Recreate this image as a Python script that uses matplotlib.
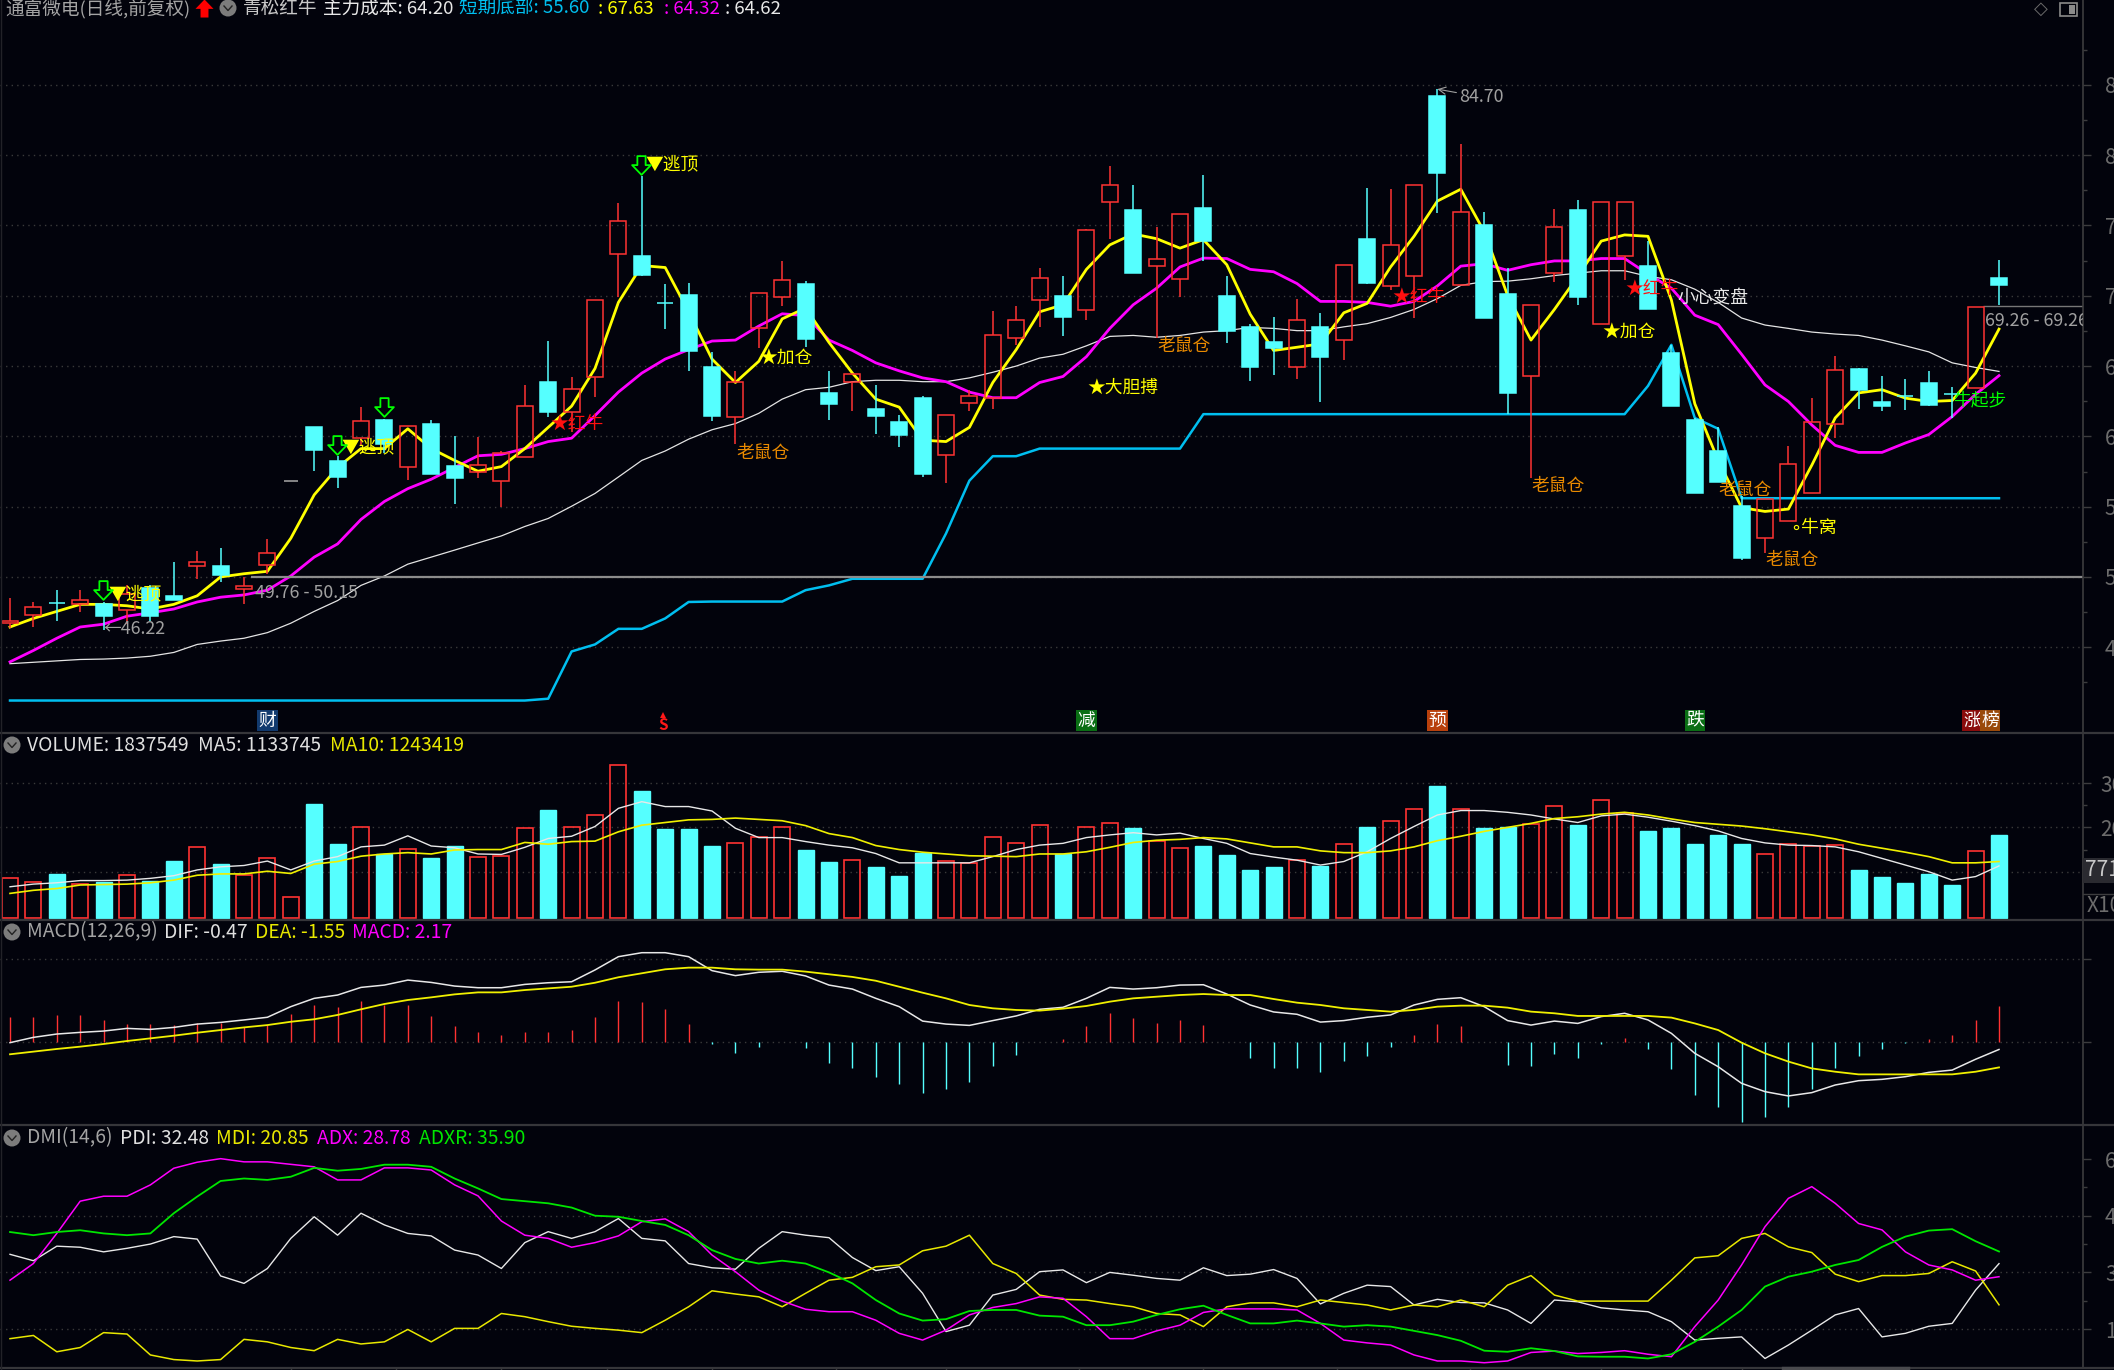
import numpy as np
import matplotlib
matplotlib.use('Agg')
import matplotlib.pyplot as plt
from matplotlib.patches import Circle, Rectangle
from matplotlib.path import Path

plt.rcParams['font.family'] = ['Noto Sans CJK SC', 'DejaVu Sans']

# ---- price panel ----
open_ = [46.7, 47.32, 48.12, 48.05, 48.09, 47.65, 49.23, 48.62, 50.77, 50.77,
         49.16, 50.84, 56.85, 60.67, 58.22, 59.9, 61.14, 57.79, 60.91, 57.89,
         57.45, 56.81, 58.56, 63.89, 61.74, 64.19, 72.95, 72.85, 69.5, 70.07,
         64.93, 61.38, 67.68, 69.93, 70.84, 63.05, 63.89, 61.98, 61.04, 62.75,
         58.66, 62.38, 62.75, 66.98, 69.73, 69.97, 68.96, 76.64, 76.07, 72.15,
         71.21, 76.28, 69.97, 67.75, 66.68, 64.9, 67.75, 66.85, 74.06, 70.67,
         71.41, 84.2, 70.77, 75.0, 70.1, 64.26, 71.64, 76.07, 68.02, 72.82,
         72.11, 65.91, 61.14, 58.99, 55.03, 52.75, 53.96, 55.97, 60.91, 64.77,
         62.48, 62.89, 63.79, 62.99, 63.42, 71.24]
high = [48.5, 48.22, 49.06, 49.06, 48.22, 49.4, 49.4, 51.07, 51.85, 52.08,
        50.0, 52.72, 56.85, 60.67, 58.62, 62.08, 61.21, 60.77, 61.14, 60.03,
        59.97, 58.96, 63.66, 66.78, 64.23, 69.73, 76.58, 78.52, 70.87, 70.94,
        66.0, 64.66, 70.17, 72.45, 71.04, 64.66, 64.43, 63.66, 61.54, 62.89,
        61.54, 63.32, 68.93, 69.26, 71.98, 71.38, 74.73, 79.26, 77.89, 74.9,
        75.84, 78.59, 71.38, 68.02, 68.49, 69.77, 68.79, 72.21, 77.68, 77.58,
        77.85, 84.7, 80.77, 75.97, 71.95, 69.33, 76.17, 76.81, 76.68, 76.68,
        73.89, 66.51, 61.31, 60.64, 55.77, 55.57, 59.3, 62.75, 65.74, 64.83,
        64.3, 64.09, 64.63, 63.49, 69.2, 72.55]
low = [46.4, 46.44, 46.88, 47.52, 46.22, 46.64, 46.88, 48.36, 49.87, 49.66,
       48.05, 50.23, 56.85, 57.55, 56.34, 59.3, 58.79, 56.88, 57.35, 55.17,
       57.01, 55.0, 58.56, 61.38, 60.3, 62.82, 69.93, 71.38, 67.65, 64.66,
       61.07, 59.46, 66.28, 69.26, 66.34, 61.14, 61.81, 60.2, 59.23, 57.11,
       56.71, 61.81, 61.98, 66.51, 67.79, 67.11, 68.29, 74.06, 71.61, 67.01,
       69.93, 72.45, 66.61, 63.96, 64.33, 64.06, 62.45, 65.4, 70.87, 70.44,
       68.42, 75.91, 70.77, 68.42, 61.58, 57.01, 70.97, 69.36, 68.02, 71.11,
       69.06, 62.15, 55.94, 56.78, 51.24, 51.68, 53.96, 55.97, 59.9, 61.98,
       61.81, 61.91, 62.15, 61.31, 63.42, 69.36]
close = [46.9, 47.85, 48.12, 48.39, 47.21, 48.79, 47.21, 48.36, 51.07, 50.17,
         49.36, 51.68, 56.85, 59.06, 57.11, 61.07, 59.46, 60.77, 57.35, 57.05,
         57.99, 58.79, 62.15, 61.71, 63.36, 69.73, 75.3, 71.51, 69.5, 66.07,
         61.48, 63.89, 70.17, 71.14, 66.95, 62.32, 64.43, 61.48, 60.1, 57.35,
         61.54, 62.89, 67.18, 68.26, 71.24, 68.52, 74.66, 77.85, 71.61, 72.62,
         75.84, 73.93, 67.52, 64.9, 66.28, 68.26, 65.64, 72.21, 70.94, 73.59,
         77.85, 78.76, 75.94, 68.42, 63.09, 69.33, 74.87, 69.93, 76.68, 76.68,
         69.06, 62.15, 55.94, 56.78, 51.34, 55.57, 58.02, 61.01, 64.73, 63.32,
         62.15, 62.89, 62.25, 62.99, 69.2, 70.77]

ma_yellow = [46.44, 47.05, 47.55, 48.05, 48.05, 47.95, 47.72, 48.05, 48.66, 50.0,
             50.23, 50.4, 52.75, 55.84, 57.79, 59.13, 59.13, 60.54, 59.13, 58.29,
             57.52, 57.85, 59.13, 60.64, 62.15, 64.83, 69.53, 72.15, 72.01, 68.86,
             65.5, 63.83, 65.34, 68.36, 69.13, 66.68, 64.5, 62.65, 62.08, 59.73,
             59.63, 60.64, 63.83, 66.17, 68.86, 69.36, 71.88, 73.62, 74.4, 74.06,
             73.39, 73.99, 72.21, 68.69, 66.11, 66.34, 66.58, 68.79, 69.46, 72.05,
             74.23, 76.74, 77.58, 74.56, 70.03, 66.85, 69.03, 71.38, 73.89, 74.33,
             74.23, 69.7, 62.32, 58.29, 54.93, 54.66, 54.83, 57.95, 61.31, 63.09,
             63.32, 62.72, 62.48, 62.55, 64.5, 67.63]
ma_magenta = [43.96, 44.77, 45.64, 46.44, 46.64, 47.21, 47.45, 47.72, 48.22, 48.56,
              48.72, 49.06, 50.07, 51.41, 52.35, 54.09, 55.37, 56.28, 56.95, 57.79,
              58.62, 58.72, 59.13, 59.63, 59.87, 61.48, 63.15, 64.5, 65.5, 66.17,
              66.78, 66.85, 67.85, 68.72, 68.59, 66.85, 66.11, 65.23, 64.66, 64.16,
              63.89, 63.15, 62.75, 62.75, 63.83, 64.26, 65.67, 67.68, 69.36, 70.54,
              72.05, 72.68, 72.65, 71.88, 71.71, 70.87, 69.6, 69.6, 69.53, 69.26,
              69.6, 70.7, 72.11, 72.28, 71.81, 72.21, 72.48, 72.48, 72.65, 72.65,
              71.54, 70.54, 68.62, 67.95, 65.84, 63.66, 62.48, 60.81, 59.36, 58.86,
              58.86, 59.53, 60.13, 61.41, 62.99, 64.32]
ma_white = [43.83, 43.93, 44.03, 44.13, 44.16, 44.23, 44.36, 44.63, 45.2, 45.44,
            45.64, 46.04, 46.71, 47.55, 48.32, 49.4, 50.07, 50.91, 51.41, 51.91,
            52.42, 52.92, 53.59, 54.16, 55.03, 55.94, 57.11, 58.29, 58.96, 59.8,
            60.47, 60.91, 61.64, 62.65, 63.32, 63.49, 63.89, 63.99, 63.99, 63.89,
            63.89, 64.16, 64.56, 65.0, 65.57, 65.84, 66.44, 67.11, 67.18, 67.05,
            67.18, 67.42, 67.52, 67.75, 67.68, 67.52, 67.52, 67.79, 68.02, 68.46,
            69.03, 69.8, 70.74, 71.01, 71.04, 71.21, 71.44, 71.61, 71.78, 71.78,
            71.38, 71.14, 70.47, 69.53, 68.42, 67.92, 67.68, 67.42, 67.28, 67.18,
            66.85, 66.44, 66.01, 65.23, 64.9, 64.62]
bottom_line = [41.21] * 23 + [41.34, 44.7, 45.2, 46.31, 46.31, 47.05, 48.22,
               48.25, 48.25, 48.25, 48.25, 49.06, 49.4, 49.87, 49.87, 49.87, 49.87,
               53.09, 56.85, 58.59, 58.59, 59.13, 59.13, 59.13, 59.13, 59.13, 59.13,
               59.13] + [61.58] * 19 + [63.59, 66.51, 61.31, 60.54] + [55.6] * 12

# ---- volume panel, millions of shares ----
volume = [.865, .759, .94, .714, .774, .932, .789, 1.241, 1.564, 1.173,
          .925, 1.301, .421, 2.526, 1.617, 2.015, 1.398, 1.504, 1.308, 1.571,
          1.331, 1.361, 1.977, 2.391, 2.015, 2.286, 3.398, 2.827, 1.955, 1.955,
          1.571, 1.639, 1.789, 2.015, 1.481, 1.211, 1.263, 1.105, .902, 1.429,
          1.233, 1.203, 1.774, 1.639, 2.045, 1.398, 2.008, 2.105, 1.977, 1.692,
          1.534, 1.571, 1.376, 1.038, 1.105, 1.263, 1.135, 1.632, 2.015, 2.15,
          2.414, 2.932, 2.421, 1.985, 2.015, 2.068, 2.481, 2.053, 2.624, 2.331,
          1.917, 1.985, 1.617, 1.82, 1.617, 1.398, 1.632, 1.571, 1.602, 1.038,
          .872, .737, .94, .699, 1.474, 1.838]
vol_ma5 = [.66, .72, .75, .80, .80, .81, .85, .91, 1.04, 1.11,
           1.14, 1.24, 1.04, 1.24, 1.34, 1.56, 1.60, 1.81, 1.58, 1.54,
           1.40, 1.39, 1.55, 1.75, 1.80, 2.02, 2.43, 2.58, 2.47, 2.47,
           2.37, 1.98, 1.77, 1.77, 1.68, 1.60, 1.54, 1.41, 1.20, 1.20,
           1.20, 1.20, 1.34, 1.50, 1.60, 1.64, 1.77, 1.83, 1.88, 1.83,
           1.87, 1.75, 1.64, 1.41, 1.33, 1.26, 1.15, 1.23, 1.45, 1.75,
           2.02, 2.28, 2.38, 2.38, 2.34, 2.28, 2.19, 2.11, 2.26, 2.30,
           2.23, 2.14, 2.04, 1.92, 1.75, 1.65, 1.60, 1.59, 1.56, 1.45,
           1.30, 1.15, 1.00, .81, .89, 1.13]
vol_ma10 = [.51, .58, .62, .70, .71, .72, .75, .81, .92, .95,
            .95, 1.01, .96, 1.17, 1.23, 1.35, 1.40, 1.43, 1.40, 1.49,
            1.50, 1.50, 1.66, 1.62, 1.68, 1.69, 1.90, 2.05, 2.11, 2.17,
            2.18, 2.21, 2.18, 2.15, 2.04, 1.86, 1.77, 1.59, 1.50, 1.44,
            1.40, 1.36, 1.35, 1.34, 1.40, 1.40, 1.45, 1.55, 1.66, 1.71,
            1.73, 1.77, 1.74, 1.65, 1.56, 1.56, 1.47, 1.43, 1.43, 1.47,
            1.56, 1.70, 1.80, 1.91, 2.00, 2.09, 2.20, 2.24, 2.30, 2.34,
            2.28, 2.19, 2.11, 2.07, 2.03, 1.97, 1.90, 1.83, 1.74, 1.62,
            1.53, 1.44, 1.34, 1.20, 1.20, 1.23]

# ---- MACD panel ----
dif = [-.06, .26, .46, .56, .64, .80, .74, .86, 1.06, 1.16,
       1.31, 1.47, 2.11, 2.61, 2.81, 3.27, 3.41, 3.71, 3.57, 3.35,
       3.25, 3.25, 3.45, 3.55, 3.61, 4.32, 5.12, 5.36, 5.36, 5.12,
       4.28, 3.98, 4.18, 4.24, 3.96, 3.41, 3.17, 2.61, 2.11, 1.24,
       1.06, .98, 1.27, 1.55, 1.95, 2.07, 2.61, 3.27, 3.17, 3.25,
       3.41, 3.43, 2.87, 2.21, 1.79, 1.65, 1.18, 1.27, 1.47, 1.61,
       2.21, 2.55, 2.65, 2.11, 1.27, 1.0, 1.24, 1.10, 1.51, 1.71,
       1.31, .5, -.70, -1.51, -2.51, -3.01, -3.27, -3.07, -2.61, -2.35,
       -2.27, -2.11, -1.85, -1.71, -1.06, -.47]
dea = [-.76, -.6, -.44, -.3, -.14, .04, .2, .36, .54, .70,
       .86, 1.0, 1.2, 1.35, 1.61, 1.95, 2.27, 2.51, 2.67, 2.85,
       2.97, 2.97, 3.11, 3.21, 3.31, 3.55, 3.88, 4.12, 4.36, 4.46,
       4.46, 4.36, 4.34, 4.34, 4.22, 4.06, 3.90, 3.67, 3.31, 2.95,
       2.61, 2.21, 2.01, 1.91, 1.87, 1.99, 2.15, 2.41, 2.61, 2.71,
       2.81, 2.87, 2.81, 2.81, 2.57, 2.35, 2.21, 2.01, 1.91, 1.81,
       1.91, 2.11, 2.17, 2.17, 2.05, 1.81, 1.71, 1.55, 1.55, 1.55,
       1.55, 1.45, 1.10, .70, -.06, -.70, -1.2, -1.61, -1.81, -1.97,
       -1.97, -1.97, -1.97, -1.97, -1.81, -1.55]
macd = [1.47, 1.47, 1.59, 1.61, 1.31, 1.06, 1.06, 1.0, 1.10, 1.10,
        .90, 1.0, 1.67, 2.21, 2.11, 2.47, 2.21, 2.21, 1.57, .94,
        .56, .40, .56, .56, .70, 1.47, 2.47, 2.37, 1.95, 1.06,
        -.14, -.66, -.30, 0, -.40, -1.31, -1.57, -2.11, -2.55, -3.11,
        -2.83, -2.41, -1.47, -.78, 0, .14, .94, 1.75, 1.41, 1.14,
        1.31, 1.02, 0, -1.0, -1.57, -1.57, -1.85, -1.14, -.86, -.34,
        .40, 1.04, .94, 0, -1.41, -1.47, -.76, -.96, -.14, .2,
        -.42, -1.67, -3.21, -3.92, -4.82, -4.56, -3.92, -2.85, -1.57, -.84,
        -.44, -.06, .14, .40, 1.31, 2.17]

# ---- DMI panel ----
pdi = [35.1, 33.3, 37.4, 37.1, 35.8, 36.8, 38.0, 40.1, 39.4, 29.0,
       26.9, 31.1, 39.6, 45.7, 40.5, 46.7, 43.4, 41.0, 40.3, 36.3,
       34.9, 31.1, 38.4, 41.5, 39.6, 41.5, 45.2, 39.6, 38.9, 32.5,
       31.3, 30.9, 36.8, 41.5, 40.5, 39.8, 34.2, 30.5, 31.6, 24.1,
       13.3, 15.1, 23.6, 25.2, 30.2, 30.7, 27.1, 30.0, 29.2, 28.3,
       27.8, 31.3, 29.1, 29.5, 30.8, 28.3, 21.1, 24.1, 26.4, 26.0,
       20.8, 22.4, 21.5, 21.4, 19.4, 15.6, 22.2, 21.7, 20.0, 19.4,
       18.9, 16.1, 10.9, 11.4, 11.8, 5.7, 9.5, 13.7, 18.0, 19.8,
       11.8, 12.8, 14.8, 15.6, 25.0, 32.48]
mdi = [11.3, 12.2, 7.6, 8.8, 13.0, 12.6, 6.7, 5.4, 5.0, 5.4,
       11.1, 10.4, 8.8, 7.9, 11.1, 9.8, 10.4, 13.9, 10.4, 14.2,
       14.2, 18.4, 17.5, 16.1, 14.8, 14.2, 13.7, 13.0, 16.5, 20.3,
       24.8, 23.9, 23.1, 20.3, 24.1, 27.8, 28.6, 31.6, 32.1, 36.1,
       37.4, 40.5, 32.5, 29.7, 23.6, 22.4, 22.2, 21.2, 20.3, 18.4,
       18.0, 14.7, 20.3, 21.4, 21.4, 20.3, 22.2, 21.5, 20.8, 19.4,
       20.8, 20.3, 22.2, 20.3, 26.4, 29.1, 23.6, 21.9, 21.9, 21.9,
       21.9, 27.8, 34.1, 34.7, 39.6, 41.0, 37.2, 35.6, 29.5, 27.4,
       29.1, 29.1, 29.7, 33.0, 30.4, 20.85]
adx = [27.8, 32.5, 41.0, 50.1, 51.5, 51.5, 54.7, 59.4, 61.1, 62.1,
       61.2, 61.2, 60.5, 59.8, 56.1, 56.1, 59.5, 59.5, 58.9, 54.7,
       51.6, 44.5, 40.5, 39.6, 37.1, 38.4, 40.3, 44.3, 45.1, 41.5,
       34.9, 30.2, 25.0, 21.9, 19.6, 18.9, 18.9, 16.5, 12.8, 10.9,
       13.7, 18.0, 20.1, 21.2, 23.1, 22.7, 17.5, 11.3, 11.3, 13.5,
       15.1, 18.7, 19.7, 19.7, 19.7, 19.4, 15.6, 10.9, 10.1, 9.5,
       6.7, 5.0, 5.0, 4.5, 5.0, 7.4, 7.8, 7.1, 7.4, 7.9,
       6.9, 6.2, 14.7, 22.2, 32.1, 42.9, 50.9, 54.2, 49.5, 43.8,
       42.0, 35.8, 32.1, 30.7, 27.8, 28.78]
adxr = [41.4, 40.5, 41.4, 41.9, 41.0, 40.5, 41.0, 46.7, 51.4, 55.8,
        56.5, 56.1, 57.0, 59.5, 58.7, 59.2, 60.4, 60.4, 59.8, 56.5,
        53.7, 50.7, 50.1, 49.5, 48.3, 46.0, 45.7, 44.5, 43.4, 40.5,
        36.3, 33.8, 32.5, 33.3, 32.5, 30.0, 26.9, 22.2, 18.4, 16.4,
        16.8, 19.1, 19.4, 19.4, 17.8, 17.5, 15.1, 15.1, 16.1, 18.0,
        19.6, 20.6, 18.0, 15.6, 15.6, 16.4, 15.6, 14.7, 15.1, 14.7,
        13.5, 12.3, 10.7, 7.9, 7.6, 8.6, 7.8, 6.3, 6.2, 6.2,
        5.7, 6.9, 10.4, 14.7, 19.4, 26.0, 28.8, 30.2, 32.1, 33.5,
        37.2, 40.1, 41.8, 42.2, 38.8, 35.9]

price_ticks = [45, 50, 55, 60, 65, 70, 75, 80, 85]
price_minor = [42.5, 47.5, 52.5, 57.5, 62.5, 67.5, 72.5, 77.5, 82.5, 87.5]
vol_ticks = [1, 2, 3]
vol_minor = [1.5, 2.5]
dmi_grid = [14, 30, 46]
dmi_ticks = [14, 30, 46, 62]
dmi_minor = [22, 38, 54]
month_ticks = [12, 16.5, 21, 25.5, 30, 35.3, 40, 45.7, 51, 56.7, 62.4, 68, 74]

# (bar index, price, text)
escape_tags = [(4.2, 48.79), (14.17, 59.19), (27.14, 79.33)]
down_arrows = [(3.99, 49.06), (13.98, 59.4), (15.98, 62.08), (26.97, 79.33)]
red_bull = [(23.08, 60.87), (59.06, 69.9), (69.03, 70.47)]
add_tags = [(32.03, 65.57), (68.06, 67.45)]
rat_tags = [(31.05, 58.79), (49.04, 66.41), (65.0, 56.44), (73.03, 56.17), (75.03, 51.24)]
news_tags = [(11, '财', '#123a6e', 'white'), (46, '减', '#0a6e14', 'white'),
             (61, '预', '#b8400c', 'white'), (72, '跌', '#0a6e14', 'white')]

W, H = 2114, 1370
AX_R = 2083
BG = '#02030c'
RED = '#ff3232'
AQUA = '#55ffff'
GRID = '#3a3a3a'
AXIS = '#3c3c3e'
TICK = '#6c6c6c'
FS = 12.8
STRIP_FS = 13.9

# block arrow markers
ARROW_DOWN = Path([(-.22, .5), (.22, .5), (.22, .02), (.5, .02), (0, -.5), (-.5, .02), (-.22, .02), (-.22, .5)],
                  closed=True)
ARROW_UP = Path([(vx, -vy) for vx, vy in ARROW_DOWN.vertices], closed=True)

n = len(close)
x = np.arange(n)
xlim = (-10 / 23.4, (AX_R - 10) / 23.4)
xend = xlim[1]


def panel(top, bottom, ylim, pad=10):
    ax = fig.add_axes([0, 1 - bottom / H, AX_R / W, (bottom - top) / H])
    ax.set_facecolor(BG)
    ax.set_xlim(*xlim)
    ax.set_ylim(*ylim)
    ax.yaxis.tick_right()
    ax.set_xticks([])
    for side in ['top', 'bottom', 'left']:
        ax.spines[side].set_visible(False)
    ax.spines['right'].set_color(AXIS)
    ax.spines['right'].set_linewidth(1.2)
    ax.tick_params(axis='y', which='major', length=5.8, width=1, color=AXIS,
                   labelcolor=TICK, labelsize=15, pad=pad)
    ax.tick_params(axis='y', which='minor', length=3, width=1, color=AXIS)
    return ax


def dotted(ax, values):
    ax.hlines(values, 0, 1, transform=ax.get_yaxis_transform(), colors=GRID,
              linestyles=(0, (1, 3)), linewidth=1, zorder=1)


fig = plt.figure(figsize=(W / 100, H / 100), dpi=100, facecolor=BG)

# price panel
ax = panel(0, 733, (38.9, 91.04))
dotted(ax, price_ticks)
ax.set_yticks(price_ticks)
ax.set_yticklabels(['%.2f' % v for v in price_ticks])
ax.set_yticks(price_minor, minor=True)

ax.plot(x, bottom_line, color='#00bff0', lw=1.8, zorder=2)
ax.plot(x, ma_white, color='#e4e4e4', lw=0.9, zorder=2)
ax.plot(x, ma_magenta, color='#ff00ff', lw=2.0, zorder=2)
ax.plot(x, ma_yellow, color='#ffff00', lw=2.0, zorder=2)
ax.hlines(50.0, 10.3, xend, color='#8c8c8c', lw=1.6, zorder=2)
ax.hlines(69.26, 84.3, xend, color='#777777', lw=1.0, zorder=2)

o = np.array(open_)
h = np.array(high)
l = np.array(low)
c = np.array(close)
up = c > o
flat = h == l
dn = ~up & ~flat
top = np.maximum(o, c)
bot = np.minimum(o, c)
ax.vlines(x[up], top[up], h[up], color=RED, lw=1.1, zorder=3)
ax.vlines(x[up], l[up], bot[up], color=RED, lw=1.1, zorder=3)
ax.vlines(x[dn], l[dn], h[dn], color=AQUA, lw=1.1, zorder=3)
ax.bar(x[up], (c - o)[up], bottom=o[up], width=0.68, facecolor='none',
       edgecolor=RED, linewidth=1.1, zorder=3)
ax.bar(x[dn], (c - o)[dn], bottom=o[dn], width=0.68, facecolor=AQUA,
       edgecolor=AQUA, linewidth=1.1, zorder=3)
ax.bar(x[flat], (c - o)[flat], bottom=o[flat], width=0.6, facecolor='none',
       edgecolor='#a8a8a8', linewidth=1.1, zorder=3)


def tag(i, p, text, color, **kw):
    ax.text(i, p, text, color=color, fontsize=FS, va='center', ha='left', zorder=5, **kw)


for i, p in escape_tags:
    tag(i, p, '▼逃顶', '#ffff00')
for i, p in down_arrows:
    ax.plot(i, p, marker=ARROW_DOWN, ms=13.5, mfc='none', mec='#00ff00', mew=1.3, zorder=5)
for i, p in red_bull:
    tag(i, p, '★红牛', '#ff1010')
for i, p in add_tags:
    tag(i, p, '★加仓', '#ffff00')
for i, p in rat_tags:
    tag(i, p, '老鼠仓', '#e98a00')
tag(46.05, 63.49, '★大胆搏', '#ffff00')
tag(71.27, 69.87, '小心变盘', '#e8e8e8')
tag(76.07, 53.49, '∘牛窝', '#ffff00')
tag(83.05, 62.58, '牛起步', '#00ff00')
tag(3.99, 46.28, '←46.22', '#a0a0a0')
tag(10.45, 48.83, '49.76 - 50.15', '#a0a0a0')
tag(84.4, 68.19, '69.26 - 69.26', '#a0a0a0', clip_on=True)
ax.annotate('84.70', xy=(61, 84.7), xytext=(61.93, 84.13), color='#a0a0a0', fontsize=FS,
            va='center', zorder=5,
            arrowprops=dict(arrowstyle='->', color='#a0a0a0', lw=0.8, shrinkA=0, shrinkB=0))

for i, text, bgcolor, fgcolor in news_tags:
    ax.text(i, 39.76, text, color=fgcolor, fontsize=FS, ha='center', va='center', zorder=5,
            bbox=dict(facecolor=bgcolor, edgecolor='none', pad=1))
ax.text(27.9, 39.47, 'S', color='#ff1818', fontsize=11, ha='center', va='center',
        fontweight='bold', zorder=5)
ax.plot(27.9, 40.15, marker='^', ms=5, color='#ff1818', mew=0, zorder=5)
ax.text(83.85, 39.76, '涨', color='white', fontsize=FS, ha='center', va='center', zorder=5,
        bbox=dict(facecolor='#8a0c0c', edgecolor='none', pad=1))
ax.text(84.62, 39.76, '榜', color='white', fontsize=FS, ha='center', va='center', zorder=5,
        bbox=dict(facecolor='#9a4a0a', edgecolor='none', pad=1))

# volume panel
ax = panel(733, 920, (-0.09, 4.13), pad=6.5)
dotted(ax, vol_ticks)
ax.set_yticks(vol_ticks)
ax.set_yticklabels(['', '200.0', '300.0'])
ax.set_yticks(vol_minor, minor=True)
vol = np.array(volume)
vol_floor = -0.04
ax.bar(x[up | flat], (vol - vol_floor)[up | flat], bottom=vol_floor, width=0.68,
       facecolor='none', edgecolor=RED, linewidth=1.2, zorder=3)
ax.bar(x[~(up | flat)], (vol - vol_floor)[~(up | flat)], bottom=vol_floor, width=0.68,
       facecolor=AQUA, edgecolor=AQUA, linewidth=1.0, zorder=3)
ax.plot(x, vol_ma5, color='#e8e8e8', lw=1.0, zorder=4)
ax.plot(x, vol_ma10, color='#f0f000', lw=1.2, zorder=4)

# MACD panel
ax = panel(920, 1125, (-5.02, 7.33))
dotted(ax, [0, 5])
ax.set_yticks([0, 5])
ax.set_yticklabels([])
m = np.array(macd)
ax.vlines(x[m > 0], 0, m[m > 0], color=RED, lw=1.0, zorder=2)
ax.vlines(x[m < 0], 0, m[m < 0], color=AQUA, lw=1.0, zorder=2)
ax.plot(x, dif, color='#e8e8e8', lw=1.1, zorder=3)
ax.plot(x, dea, color='#f0f000', lw=1.3, zorder=3)

# DMI panel
ax = panel(1125, 1367, (3.3, 71.6))
dotted(ax, dmi_grid)
ax.set_yticks(dmi_ticks)
ax.set_yticklabels(['%.2f' % v for v in dmi_ticks])
ax.set_yticks(dmi_minor, minor=True)
ax.set_xticks(month_ticks)
ax.set_xticklabels([])
ax.tick_params(axis='x', length=2, width=1, color=AXIS)
ax.plot(x, pdi, color='#e8e8e8', lw=1.0, zorder=3)
ax.plot(x, mdi, color='#e8e800', lw=1.1, zorder=3)
ax.plot(x, adx, color='#ff00ff', lw=1.1, zorder=3)
ax.plot(x, adxr, color='#00e600', lw=1.3, zorder=3)

# header strips and the rest of the window chrome, in pixels
hud = fig.add_axes([0, 0, 1, 1])
hud.set_xlim(0, W)
hud.set_ylim(H, 0)
hud.axis('off')
for py in [733, 920, 1125, 1368]:
    hud.plot([0, W], [py, py], color='#36363a', lw=1.6)
hud.plot([1783, 1908], [1368, 1368], color='#4a4a4e', lw=2.5)
hud.plot([1, 1], [0, H], color='#222228', lw=1)


def chevron(cx, cy):
    hud.add_patch(Circle((cx, cy), 8.5, color='#7c7c7c', lw=0))
    hud.plot([cx - 4, cx, cx + 4], [cy - 2, cy + 2.5, cy - 2], color='#222222', lw=1)


def strip(y, parts, size=STRIP_FS):
    for px, text, color in parts:
        hud.text(px, y, text, color=color, fontsize=size, va='center', ha='left')


strip(9, [(5, '通富微电(日线,前复权)', '#a4a4a4'),
          (243, '青松红牛', '#c8c8c8'),
          (323, '主力成本: 64.20', '#e8e8e8'),
          (459, '短期底部: 55.60', '#00bff0'),
          (598, ': 67.63', '#ffff00'),
          (664, ': 64.32', '#ff00ff'),
          (725, ': 64.62', '#e8e8e8')], size=13.4)
hud.plot(204, 8, marker=ARROW_UP, ms=13, color='#ff0000', mew=0)
chevron(228, 8)
chevron(12, 745)
chevron(12, 932)
chevron(12, 1138)
strip(745, [(27, 'VOLUME: 1837549', '#e0e0e0'), (198, 'MA5: 1133745', '#e0e0e0'),
            (330, 'MA10: 1243419', '#e8e800')])
strip(932, [(27, 'MACD(12,26,9)', '#a4a4a4'), (164, 'DIF: -0.47', '#e0e0e0'),
            (255, 'DEA: -1.55', '#e8e800'), (352, 'MACD: 2.17', '#ff00ff')])
strip(1138, [(27, 'DMI(14,6)', '#a4a4a4'), (120, 'PDI: 32.48', '#e0e0e0'),
             (216, 'MDI: 20.85', '#e8e800'), (317, 'ADX: 28.78', '#ff00ff'),
             (419, 'ADXR: 35.90', '#00e600')])

hud.text(2041, 9, '◇', color='#6c6c6c', fontsize=13, family='DejaVu Sans', ha='center', va='center')
hud.add_patch(Rectangle((2060, 3), 17, 13, fill=False, edgecolor='#8a8a8a', lw=1.2))
hud.add_patch(Rectangle((2069, 5), 6, 9, facecolor='#8a8a8a', edgecolor='none'))
hud.add_patch(Rectangle((AX_R, 858), W - AX_R, 25, facecolor='#2a2a30', edgecolor='none'))
hud.text(2085, 870, '771.9', color='#c8c8c8', fontsize=15, va='center')
hud.plot([AX_R, W], [894, 894], color='#3c3c3e', lw=1)
hud.text(2087, 906, 'X10000', color=TICK, fontsize=15, va='center')

fig.savefig('out.png', dpi=100, facecolor=BG)
